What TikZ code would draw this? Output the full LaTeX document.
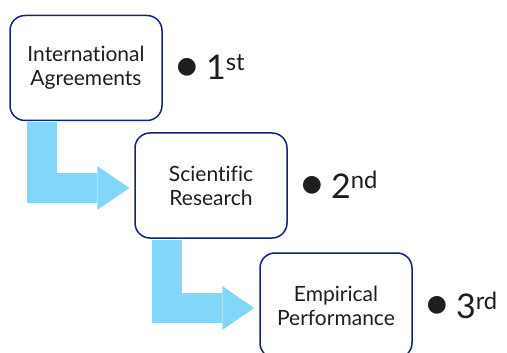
\documentclass[tikz,border=0pt]{standalone}
\usepackage{fontspec}
\setmainfont{Lato}[Ligatures=NoCommon]
\usetikzlibrary{positioning, calc, arrows.meta}
\definecolor{boxline}{HTML}{14237A}
\definecolor{flowblue}{HTML}{82D6F8}
\definecolor{inktext}{HTML}{1E1E1E}
\newcommand{\bigdot}{\raisebox{-1.5pt}{\scalebox{1.4}{\textbullet}}\hspace{4.5pt}}

\begin{document}
\begin{tikzpicture}[x=1pt, y=-1pt,
  stage/.style={draw=boxline, line width=1.5pt, rounded corners=15pt, fill=white, text=inktext,
    minimum width=152pt, minimum height=105pt, align=center, inner sep=0pt,
    font=\fontsize{21}{24}\selectfont},
  rank/.style={anchor=west, inner sep=0pt, text=inktext, font=\fontsize{34}{40}\selectfont},
  flow/.style={draw=flowblue, line width=30pt, -{Triangle[width=44pt, length=32pt, line width=0pt]}, shorten >=5pt}]
  \useasboundingbox (0,0) rectangle (507,353);
  % stages
  \node[stage] (ia) at (86,68) {International\\Agreements};
  \node[stage] (sr) at (211,185.5) {Scientific\\Research};
  \node[stage] (ep) at (336,305.5) {Empirical\\Performance};
  % order labels
  \node[rank, right=11pt of ia] (r1) {\bigdot 1\textsuperscript{st}};
  \node[rank, right=11pt of sr] (r2) {\bigdot 2\textsuperscript{nd}};
  \node[rank, right=11pt of ep] (r3) {\bigdot 3\textsuperscript{rd}};
  % bent arrows
  \draw[flow] ($(ia.south west)+(33,0.75)$) |- ($(sr.west)+(0,2.5)$);
  \draw[flow] ($(sr.south west)+(33,0.75)$) |- ($(ep.west)+(0,2.5)$);
\end{tikzpicture}
\end{document}
